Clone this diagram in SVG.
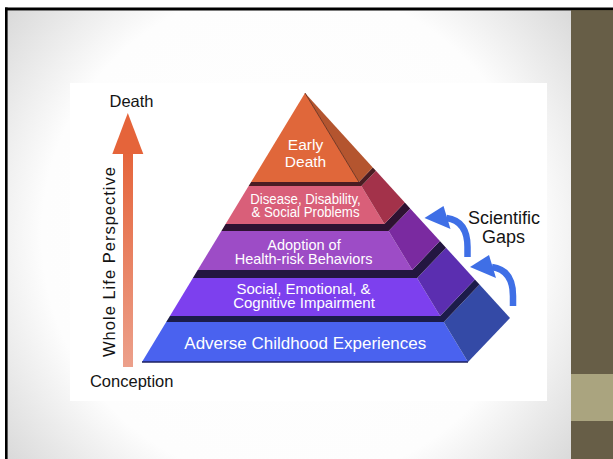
<svg xmlns="http://www.w3.org/2000/svg" width="613" height="459" viewBox="0 0 613 459">
  <defs>
    <radialGradient id="slideBg" cx="290" cy="235" r="365" gradientUnits="userSpaceOnUse">
      <stop offset="0" stop-color="#ffffff"/>
      <stop offset="0.68" stop-color="#fdfdfd"/>
      <stop offset="1" stop-color="#d8d8d8"/>
    </radialGradient>
    <linearGradient id="shaftFill" x1="0" y1="150" x2="0" y2="367" gradientUnits="userSpaceOnUse">
      <stop offset="0" stop-color="#e5643a"/>
      <stop offset="1" stop-color="#eca08b"/>
    </linearGradient>
    <!-- curved "gap" arrow, drawn around the lower position -->
    <g id="gapArrow">
      <path d="M513 306 L513 296 Q513 270 492 267" fill="none" stroke="#3f6fe6" stroke-width="6.5"/>
      <polygon points="470,267 489,255 496,278" fill="#3f6fe6"/>
    </g>
  </defs>
  <style>
    .lbl { font-family: "Liberation Sans", Arial, sans-serif; fill: #ffffff; text-anchor: middle; }
    .ink { font-family: "Liberation Sans", Arial, sans-serif; fill: #141414; text-anchor: middle; }
    .gap { stroke: none; }
  </style>

  <!-- page, slide and side panel -->
  <rect x="0" y="0" width="613" height="459" fill="#ffffff"/>
  <rect x="7" y="10" width="564" height="449" fill="url(#slideBg)"/>
  <rect x="70" y="83" width="477" height="318" fill="#ffffff"/>
  <rect x="571" y="10" width="42" height="449" fill="#675e47"/>
  <rect x="571" y="374" width="42" height="47" fill="#aaa47f"/>
  <rect x="7" y="10" width="564" height="1" fill="#8a8a8a"/>
  <rect x="5" y="7.5" width="608" height="2.6" fill="#000000"/>
  <rect x="5" y="7.5" width="2.6" height="452" fill="#000000"/>

  <!-- pyramid tiers, bottom to top -->
  <g id="tier-adverse">
    <polygon points="166.2,322 443.8,322 468,362 142,362" fill="#4a62ef"/>
    <polygon points="443.8,322 479.5,284.4 510,317.9 468,362" fill="#344aa6"/>
    <line x1="142" y1="362" x2="468" y2="362" stroke="#1d2160" stroke-width="1.5"/>
    <text class="lbl" x="305.3" y="349" font-size="17">Adverse Childhood Experiences</text>
  </g>
  <polygon class="gap" points="169.9,316 440.1,316 474.9,279.4 479.5,284.4 443.8,322 166.2,322" fill="#1c1c4a"/>
  <g id="tier-social">
    <polygon points="192.9,278 417.1,278 440.1,316 169.9,316" fill="#7d40ee"/>
    <polygon points="417.1,278 446,247.7 474.9,279.4 440.1,316" fill="#5b2eb0"/>
    <text class="lbl" x="303.5" y="294" font-size="15">Social, Emotional, &amp;</text>
    <text class="lbl" x="304" y="308" font-size="15">Cognitive Impairment</text>
  </g>
  <polygon class="gap" points="197.7,270 412.3,270 439.9,241 446,247.7 417.1,278 192.9,278" fill="#231640"/>
  <g id="tier-adoption">
    <polygon points="221.4,231 388.6,231 412.3,270 197.7,270" fill="#9d4cc6"/>
    <polygon points="388.6,231 410.2,208.4 439.9,241 412.3,270" fill="#7a2aa0"/>
    <text class="lbl" x="304" y="249.5" font-size="14.5">Adoption of</text>
    <text class="lbl" x="303.6" y="263.5" font-size="14.5">Health-risk Behaviors</text>
  </g>
  <polygon class="gap" points="225.6,224 384.4,224 404.8,202.5 410.2,208.4 388.6,231 221.4,231" fill="#2e1232"/>
  <g id="tier-disease">
    <polygon points="248.6,186 361.4,186 384.4,224 225.6,224" fill="#d95f79"/>
    <polygon points="361.4,186 375.9,170.7 404.8,202.5 384.4,224" fill="#a3324a"/>
    <text class="lbl" x="305.5" y="204" font-size="14" textLength="110.5" lengthAdjust="spacingAndGlyphs">Disease, Disability,</text>
    <text class="lbl" x="305.5" y="216.5" font-size="14" textLength="108" lengthAdjust="spacingAndGlyphs">&amp; Social Problems</text>
  </g>
  <polygon class="gap" points="251.1,182 358.9,182 372.8,167.4 375.9,170.7 361.4,186 248.6,186" fill="#4a1c22"/>
  <g id="tier-early-death">
    <polygon points="305,93 358.9,182 251.1,182" fill="#e0673a"/>
    <polygon points="305,93 372.8,167.4 358.9,182" fill="#b4552f"/>
    <line x1="305" y1="93" x2="358.9" y2="182" stroke="#5a2414" stroke-width="0.8"/>
    <text class="lbl" x="305.5" y="150" font-size="15.5">Early</text>
    <text class="lbl" x="305.5" y="166.5" font-size="15.5">Death</text>
  </g>

  <!-- life-span axis labels -->
  <g id="axis-labels">
    <text class="ink" x="131.5" y="107.3" font-size="16.5">Death</text>
    <text class="ink" x="131.7" y="386.5" font-size="16.5">Conception</text>
    <text class="ink" transform="translate(114.5,262) rotate(-90)" font-size="16.5" textLength="190" lengthAdjust="spacing">Whole Life Perspective</text>
  </g>

  <g id="gaps-label">
    <text class="ink" x="504" y="223.5" font-size="18">Scientific</text>
    <text class="ink" x="503.5" y="242.5" font-size="18">Gaps</text>
  </g>

  <!-- connectors: time axis arrow and the two gap arrows -->
  <g id="connectors">
    <rect x="123" y="153" width="10" height="214" fill="url(#shaftFill)"/>
    <polygon points="127.8,113 143.3,154 112.3,154" fill="#e5643a"/>
    <use href="#gapArrow"/>
    <use href="#gapArrow" transform="translate(-45.5,-49)"/>
  </g>
</svg>
